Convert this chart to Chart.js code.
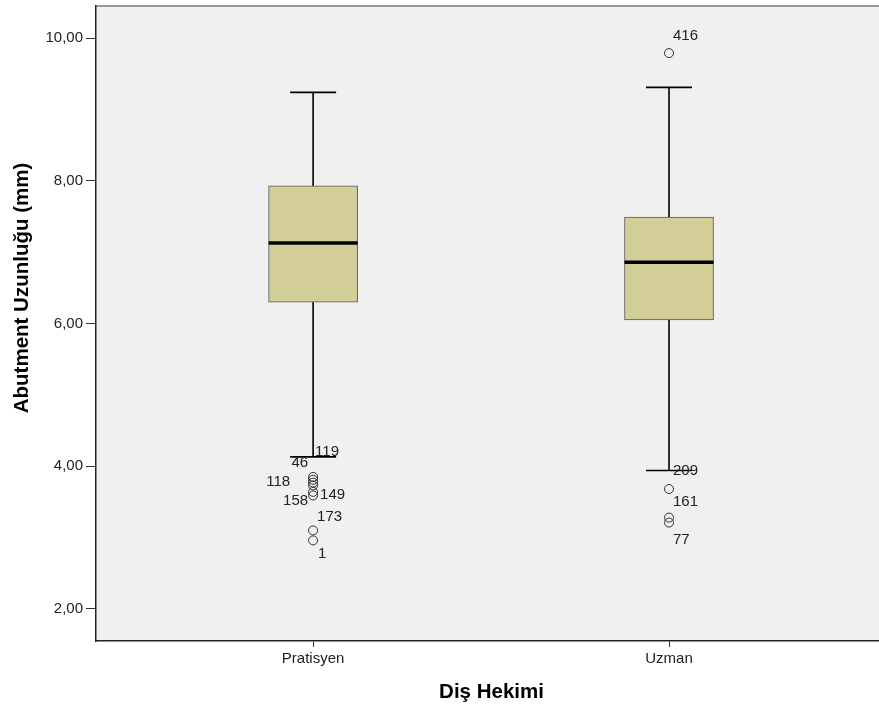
<!DOCTYPE html>
<html lang="tr">
<head>
    <meta charset="UTF-8">
    <title>Abutment Uzunluğu - Diş Hekimi</title>
    <script src="https://cdn.jsdelivr.net/npm/chart.js"></script>
    <style>
        body {
            margin: 0;
            padding: 0;
            background: #ffffff;
        }

        #wrap {
            position: relative;
            width: 879px;
            height: 713px;
        }
    </style>
</head>
<body>
    <div id="wrap">
        <canvas id="boxChart"></canvas>
    </div>

    <script>
        // Gruplar (x ekseni)
        const groups = ['Pratisyen', 'Uzman'];

        // Kutu grafiği değerleri (mm)
        const whiskerLow = [4.13, 3.94];
        const q1 = [6.30, 6.05];
        const median = [7.13, 6.86];
        const q3 = [7.93, 7.49];
        const whiskerHigh = [9.24, 9.31];

        // Aykırı değerler
        const outliersPratisyen = [3.85, 3.81, 3.77, 3.73, 3.64, 3.59, 3.10, 2.96];
        const outliersUzman = [9.79, 3.68, 3.28, 3.21];

        // Aykırı değer etiketleri (vaka no) ve etiketin durduğu değer
        const caseLabelsPratisyen = ['119', '46', '118', '158', '149', '173', '1'];
        const caseLabelValuesPratisyen = [4.20, 4.05, 3.78, 3.52, 3.60, 3.29, 2.77];
        const caseLabelsUzman = ['416', '209', '161', '77'];
        const caseLabelValuesUzman = [10.03, 3.94, 3.50, 2.97];

        // Eksen işaretleri
        const yTicks = [2, 4, 6, 8, 10];
        const yMin = 1.55;
        const yMax = 10.45;

        const FONT = "'Liberation Sans', Arial, sans-serif";

        // Sayıyı Türkçe biçimde yaz (10,00)
        function formatTr(v) {
            return v.toFixed(2).replace('.', ',');
        }

        // Etiket kaymaları (piksel): [dx, hizalama]
        const labelOffsets = [
            [[2, 'left'], [-5, 'right'], [-23, 'right'], [-5, 'right'], [7, 'left'], [4, 'left'], [5, 'left']],
            [[4, 'left'], [4, 'left'], [4, 'left'], [4, 'left']]
        ];

        const datasets = [];

        // Bıyıklar (arka planda)
        groups.forEach((g, i) => {
            datasets.push({
                type: 'line',
                data: [{ x: i + 1, y: whiskerLow[i] }, { x: i + 1, y: whiskerHigh[i] }],
                borderColor: '#000000',
                borderWidth: 1.6,
                pointRadius: 0,
                order: 5
            });
        });

        // Kutular
        datasets.push({
            type: 'bar',
            data: groups.map((g, i) => ({ x: i + 1, y: [q1[i], q3[i]] })),
            backgroundColor: '#D3CE98',
            borderColor: '#555555',
            borderWidth: 1,
            borderSkipped: false,
            barThickness: 89,
            order: 4
        });

        // Bıyık uçları
        datasets.push({
            type: 'scatter',
            data: groups.flatMap((g, i) => [{ x: i + 1, y: whiskerLow[i] }, { x: i + 1, y: whiskerHigh[i] }]),
            pointStyle: 'line',
            pointRadius: 23,
            borderColor: '#000000',
            borderWidth: 1.6,
            order: 3
        });

        // Medyan
        datasets.push({
            type: 'scatter',
            data: groups.map((g, i) => ({ x: i + 1, y: median[i] })),
            pointStyle: 'line',
            pointRadius: 44.5,
            borderColor: '#000000',
            borderWidth: 3.5,
            order: 2
        });

        // Aykırı değerler
        const outlierSets = [outliersPratisyen, outliersUzman];
        datasets.push({
            type: 'scatter',
            data: outlierSets.flatMap((arr, i) => arr.map(v => ({ x: i + 1, y: v }))),
            pointStyle: 'circle',
            pointRadius: 4.5,
            backgroundColor: 'rgba(0,0,0,0)',
            borderColor: '#333333',
            borderWidth: 1,
            order: 1
        });

        // Arka plan, üst çizgi, eksen başlıkları ve vaka etiketleri
        const decorPlugin = {
            id: 'decor',
            beforeDraw(chart) {
                const { ctx, chartArea } = chart;
                ctx.save();
                ctx.fillStyle = '#F0F0F0';
                ctx.fillRect(chartArea.left, chartArea.top, chartArea.right - chartArea.left, chartArea.bottom - chartArea.top);
                ctx.strokeStyle = '#999999';
                ctx.lineWidth = 2;
                ctx.beginPath();
                ctx.moveTo(chartArea.left, chartArea.top);
                ctx.lineTo(chartArea.right, chartArea.top);
                ctx.stroke();
                ctx.restore();
            },
            afterDraw(chart) {
                const { ctx, chartArea, scales } = chart;
                ctx.save();

                // Vaka etiketleri
                ctx.fillStyle = '#222222';
                ctx.font = '15px ' + FONT;
                ctx.textBaseline = 'middle';
                const labelSets = [
                    [caseLabelsPratisyen, caseLabelValuesPratisyen],
                    [caseLabelsUzman, caseLabelValuesUzman]
                ];
                labelSets.forEach(([texts, values], i) => {
                    const px = scales.x.getPixelForValue(i + 1);
                    texts.forEach((t, j) => {
                        const [dx, align] = labelOffsets[i][j];
                        ctx.textAlign = align;
                        ctx.fillText(t, px + dx, scales.y.getPixelForValue(values[j]));
                    });
                });

                // Eksen başlıkları
                ctx.fillStyle = '#000000';
                ctx.font = 'bold 20.5px ' + FONT;
                ctx.textAlign = 'center';
                ctx.textBaseline = 'middle';
                ctx.fillText('Diş Hekimi', (chartArea.left + chartArea.right) / 2 + 4, 692);

                ctx.translate(22, 288);
                ctx.rotate(-Math.PI / 2);
                ctx.fillText('Abutment Uzunluğu (mm)', 0, 0);
                ctx.restore();
            }
        };

        new Chart(document.getElementById('boxChart'), {
            type: 'bar',
            data: { datasets: datasets },
            options: {
                responsive: true,
                maintainAspectRatio: false,
                animation: false,
                layout: { autoPadding: false, padding: { top: 0, right: 0, left: 0, bottom: 0 } },
                plugins: {
                    legend: { display: false },
                    tooltip: { enabled: false }
                },
                scales: {
                    x: {
                        type: 'linear',
                        min: 0.39,
                        max: 2.59,
                        offset: false,
                        afterFit: s => { s.height = 72; s.paddingLeft = 0; s.paddingRight = 0; },
                        afterBuildTicks: s => { s.ticks = groups.map((g, i) => ({ value: i + 1 })); },
                        ticks: {
                            callback: v => groups[v - 1] || '',
                            color: '#222222',
                            font: { family: FONT, size: 15 },
                            padding: 3,
                            maxRotation: 0
                        },
                        grid: {
                            display: true,
                            offset: false,
                            drawOnChartArea: false,
                            drawTicks: true,
                            tickLength: 6,
                            color: '#333333'
                        },
                        border: { display: true, color: '#222222', width: 1.5 }
                    },
                    y: {
                        type: 'linear',
                        min: yMin,
                        max: yMax,
                        afterFit: s => { s.width = 96; s.paddingTop = 6; s.paddingBottom = 0; },
                        afterBuildTicks: s => { s.ticks = yTicks.map(v => ({ value: v })); },
                        ticks: {
                            callback: v => formatTr(v),
                            color: '#222222',
                            font: { family: FONT, size: 15 },
                            padding: 3
                        },
                        grid: {
                            display: true,
                            drawOnChartArea: false,
                            drawTicks: true,
                            tickLength: 10,
                            color: '#333333'
                        },
                        border: { display: true, color: '#222222', width: 1.5 }
                    }
                }
            },
            plugins: [decorPlugin]
        });
    </script>
</body>
</html>
